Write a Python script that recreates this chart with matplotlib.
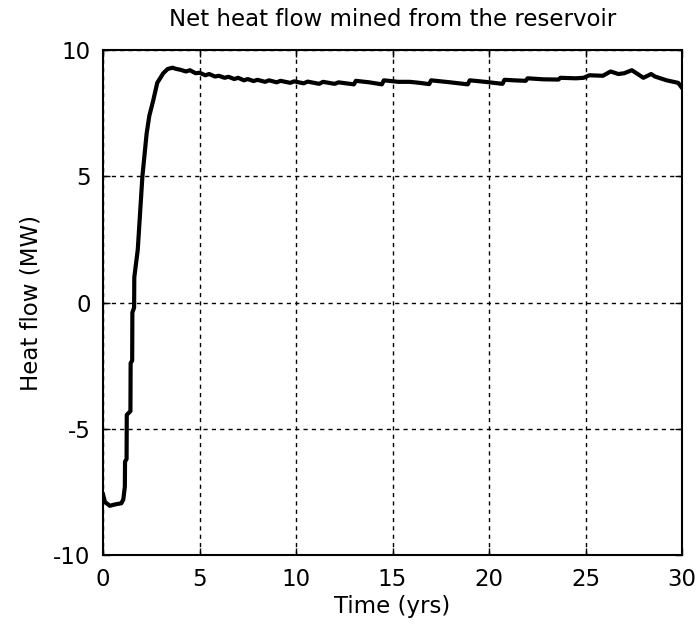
import matplotlib
matplotlib.use("Agg")
import matplotlib.pyplot as plt

# net heat flow (MW) vs time (yrs)
time_yrs = [0.0, 0.1, 0.35, 0.6, 0.95, 1.05, 1.13, 1.14, 1.22, 1.23, 1.42, 1.43,
            1.51, 1.52, 1.61, 1.62, 1.8, 2.04, 2.26, 2.4, 2.6, 2.81, 3.12, 3.35,
            3.6, 3.8, 4.0, 4.3, 4.5, 4.8, 5.0, 5.3, 5.5, 5.8, 6.0, 6.3, 6.5, 6.8,
            7.0, 7.3, 7.5, 7.8, 8.0, 8.4, 8.6, 9.0, 9.2, 9.7, 9.9, 10.4, 10.6,
            11.2, 11.4, 12.0, 12.2, 13.0, 13.1, 13.8, 14.45, 14.55, 15.3, 15.9,
            16.4, 16.9, 17.0, 18.0, 18.9, 19.0, 19.8, 20.7, 20.8, 21.3, 21.9,
            22.0, 22.8, 23.6, 23.7, 24.5, 24.9, 25.2, 25.9, 26.3, 26.7, 27.0,
            27.4, 27.7, 28.0, 28.4, 28.6, 29.2, 29.8, 30.0]
heat_mw = [-7.6, -7.9, -8.05, -8.0, -7.95, -7.8, -7.3, -6.3, -6.2, -4.45, -4.3, -2.4,
           -2.3, -0.4, -0.2, 1.0, 2.1, 5.0, 6.7, 7.4, 8.0, 8.7, 9.08, 9.25,
           9.3, 9.25, 9.22, 9.15, 9.2, 9.08, 9.1, 9.0, 9.05, 8.95, 8.98, 8.9, 8.94, 8.85,
           8.9, 8.8, 8.85, 8.77, 8.82, 8.74, 8.8, 8.72, 8.78, 8.7, 8.76, 8.68, 8.75,
           8.66, 8.74, 8.66, 8.72, 8.64, 8.78, 8.72, 8.64, 8.8, 8.74, 8.74,
           8.7, 8.65, 8.8, 8.72, 8.64, 8.8, 8.74, 8.66, 8.82, 8.8, 8.78,
           8.88, 8.84, 8.83, 8.9, 8.88, 8.9, 9.0, 8.98, 9.15, 9.05, 9.08,
           9.2, 9.05, 8.9, 9.05, 8.95, 8.8, 8.7, 8.5]

x_ticks = [0, 5, 10, 15, 20, 25, 30]
y_ticks = [-10, -5, 0, 5, 10]

plt.rcParams['font.family'] = 'DejaVu Sans'
plt.rcParams['axes.unicode_minus'] = False

fig = plt.figure(figsize=(6.99, 6.30), dpi=100)
ax = fig.add_axes([0.1474, 0.119, 0.8283, 0.8016])

ax.plot(time_yrs, heat_mw, color='black', linewidth=3)

ax.set_xlim(0, 30)
ax.set_ylim(-10, 10)
ax.set_xticks(x_ticks)
ax.set_yticks(y_ticks)
ax.tick_params(direction='in', top=True, right=True, labelsize=16.5,
               length=5, width=1, pad=9)

ax.grid(True, color='black', linestyle=(0, (3, 3)), linewidth=1)
for side in ax.spines.values():
    side.set_linewidth(1.5)

ax.set_title('Net heat flow mined from the reservoir', fontsize=16.5, pad=17)
ax.set_xlabel('Time (yrs)', fontsize=16.5, labelpad=3)
ax.set_ylabel('Heat flow (MW)', fontsize=16.5, labelpad=8)

fig.savefig('out.png', dpi=100)
